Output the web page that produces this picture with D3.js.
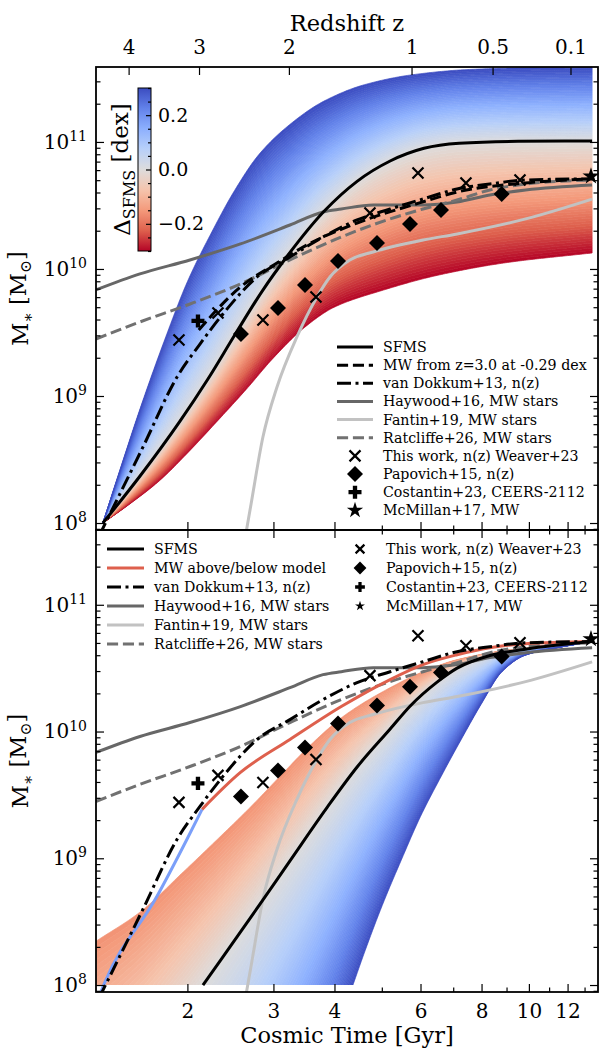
<!DOCTYPE html>
<html>
<head>
<meta charset="utf-8">
<script src="https://cdn.jsdelivr.net/npm/d3@7"></script>
<style>
  html, body { margin: 0; padding: 0; background: #fff; }
  svg { display: block; }
</style>
</head>
<body>
<svg id="fig" width="599" height="1048" font-family='"DejaVu Serif"'></svg>
<script>
// ---------------- data: time in Gyr, stellar mass as log10(M/Msun) ----------------
const redshiftTicks = [4, 3, 2, 1, 0.5, 0.1];
const redshiftTickLabels = ["4", "3", "2", "1", "0.5", "0.1"];
const timeTicksMajor = [2, 3, 4, 6, 8, 10, 12];
const timeTicksMinor = [5, 7, 9, 11, 13];
const massDecades = [8, 9, 10, 11];
const colorbarMajor = [-0.2, 0.0, 0.2];
const colorbarMinor = [-0.3, -0.25, -0.15, -0.1, -0.05, 0.05, 0.1, 0.15, 0.25, 0.3];

// upper panel: growth from 1e8 Msun at fixed offset from the SFMS
const deltaRangeUp = [-0.3, 0.3];
const growthSFMS = [[1.343, 8.0], [1.6, 8.37], [1.93, 8.8], [2.2, 9.13], [2.5, 9.48], [2.85, 9.83], [3.2, 10.1], [3.8, 10.45], [4.45, 10.69], [5.2, 10.85], [6.1, 10.95], [7.2, 10.99], [9.5, 11.005], [13.47, 11.008]];
const growthBelow = [[1.343, 8.0], [1.5, 8.13], [1.75, 8.33], [2.0, 8.55], [2.3, 8.8], [2.65, 9.06], [3.0, 9.3], [3.5, 9.55], [4.0, 9.7], [5.0, 9.83], [6.5, 9.95], [9.0, 10.05], [13.47, 10.126]];
const growthAbove = [[1.343, 8.0], [1.45, 8.4], [1.6, 8.9], [1.8, 9.45], [2.0, 9.9], [2.25, 10.3], [2.5, 10.62], [2.8, 10.9], [3.2, 11.12], [3.8, 11.32], [4.6, 11.45], [5.8, 11.53], [7.5, 11.57], [10.0, 11.585], [13.47, 11.59]];
const mwFromZ3 = [[2.11, 9.52], [2.568, 9.858], [3.05, 10.047], [3.514, 10.189], [4.45, 10.362], [5.97, 10.52], [7.13, 10.606], [9.85, 10.677], [13.47, 10.71]];

// lower panel: histories ending at the Milky Way mass today
const deltaRangeDown = [-0.16, 0.3];
const backSFMS = [[2.152, 8.0], [2.353, 8.21], [2.818, 8.64], [3.243, 8.98], [3.861, 9.40], [4.45, 9.72], [5.2, 10.02], [5.71, 10.2], [6.487, 10.39], [7.13, 10.5], [8.32, 10.6], [9.85, 10.65], [13.47, 10.71]];
const backBelow = [[1.3, 8.346], [1.599, 8.575], [1.959, 8.89], [2.333, 9.17], [2.686, 9.40], [3.065, 9.63], [3.564, 9.89], [4.204, 10.13], [5.2, 10.346], [6.07, 10.472], [7.13, 10.567], [9.85, 10.661], [13.47, 10.71]];
const backAbove = [[4.364, 8.0], [4.6, 8.25], [5.0, 8.62], [5.5, 9.0], [6.0, 9.33], [6.6, 9.64], [7.3, 9.95], [8.0, 10.22], [8.8, 10.47], [9.8, 10.6], [11.4, 10.66], [13.47, 10.71]];
const mwBelowModel = [[2.143, 9.386], [2.568, 9.677], [3.243, 9.937], [4.13, 10.197], [5.2, 10.41], [6.07, 10.528], [7.13, 10.606], [8.32, 10.661], [9.85, 10.693], [13.47, 10.71]];
const mwAboveModel = [[1.325, 7.93], [1.356, 8.024], [1.733, 8.70], [1.996, 9.15], [2.143, 9.386]];

// literature tracks
const vanDokkum = [[1.32, 7.9], [1.622, 8.598], [1.905, 9.15], [2.122, 9.409], [2.365, 9.646], [2.777, 9.937], [3.243, 10.094], [3.79, 10.252], [4.45, 10.386], [5.2, 10.472], [6.07, 10.551], [7.13, 10.63], [8.32, 10.669], [9.85, 10.70], [13.47, 10.71]];
const haywood = [[1.3, 9.835], [1.599, 9.961], [2.024, 10.071], [2.568, 10.197], [3.243, 10.346], [3.79, 10.449], [4.13, 10.472], [4.8, 10.504], [6.07, 10.504], [7.13, 10.528], [8.32, 10.583], [9.85, 10.622], [13.47, 10.661]];
const fantin = [[2.63, 7.9], [2.70, 8.15], [2.855, 8.677], [3.051, 9.071], [3.351, 9.465], [3.684, 9.78], [3.916, 9.937], [4.30, 10.071], [4.80, 10.134], [6.07, 10.228], [7.13, 10.276], [9.85, 10.394], [13.47, 10.55]];
const ratcliffe = [[1.3, 9.449], [1.599, 9.583], [2.024, 9.724], [2.568, 9.882], [3.243, 10.071], [4.13, 10.252], [5.2, 10.394], [6.07, 10.472], [7.13, 10.543], [8.32, 10.622], [9.85, 10.669], [13.47, 10.70]];

// progenitor estimates
const thisWork = [[1.922, 9.441], [2.310, 9.654], [2.855, 9.598], [3.666, 9.780], [4.728, 10.441], [5.929, 10.756], [7.433, 10.677], [9.589, 10.701]];
const papovich = [[2.574, 9.488], [3.065, 9.693], [3.481, 9.874], [4.067, 10.063], [4.887, 10.205], [5.710, 10.354], [6.608, 10.465], [8.796, 10.591]];
const costantin = [[2.102, 9.591]];
const mcmillan = [[13.4, 10.73]];

// ---------------- setup ----------------
const svg = d3.select("#fig");
const X0 = 96, X1 = 598;
const T0 = 13.47;
const logMin = 7.945, logMax = 11.59;
const x = d3.scaleLog().domain([1.3, 13.85]).range([X0, X1]);
const panels = [{ top: 67, bottom: 530 }, { top: 530, bottom: 992 }];
panels.forEach(p => {
  p.y = d3.scaleLog().domain([10 ** logMin, 10 ** logMax]).range([p.bottom, p.top]);
});

const SERIF = '"DejaVu Serif"';
const TICK_FS = 20, LABEL_FS = 22.5, LEGEND_FS = 14.2;
const hayColor = "#676767";
const ratColor = "#717171";
const fanColor = "#c2c2c2";
const redLine = "#de604d";
const blueLine = "#7b9ff9";
const DASH = "11.1,4.8";
const DASHDOT = "14,4.5,3,4.5";

const coolwarm = d3.piecewise(d3.interpolateRgb, ["#3b4cc0", "#6282ea", "#8db0fe", "#b8d0f9", "#dddcdc", "#f5c4ad", "#f49a7b", "#de604d", "#b40426"]);
const deltaToUnit = d3.scaleLinear().domain([0.3, -0.3]).range([0, 1]);
const colorOf = d => coolwarm(deltaToUnit(d));

// redshift -> cosmic time, flat LCDM with H0 = 70, Om = 0.3
function ageAt(z) {
  const hubbleTime = 977.8 / 70, OL = 0.7, Om = 0.3;
  return 2 / (3 * Math.sqrt(OL)) * hubbleTime * Math.asinh(Math.sqrt(OL / Om) * Math.pow(1 + z, -1.5));
}

// monotone cubic evaluation in ln(t); straight continuation outside the sampled range
const interpCache = new Map();
function interpolator(pts) {
  if (interpCache.has(pts)) return interpCache.get(pts);
  const xs = pts.map(d => Math.log(d[0])), ys = pts.map(d => d[1]);
  const n = xs.length, h = [], s = [];
  for (let i = 0; i < n - 1; i++) { h.push(xs[i + 1] - xs[i]); s.push((ys[i + 1] - ys[i]) / h[i]); }
  const m = new Array(n);
  m[0] = s[0]; m[n - 1] = s[n - 2];
  for (let i = 1; i < n - 1; i++) {
    if (s[i - 1] * s[i] <= 0) m[i] = 0;
    else {
      const w1 = 2 * h[i] + h[i - 1], w2 = h[i] + 2 * h[i - 1];
      m[i] = (w1 + w2) / (w1 / s[i - 1] + w2 / s[i]);
    }
  }
  const f = t => {
    const u = Math.log(t);
    if (u <= xs[0]) return ys[0] + s[0] * (u - xs[0]);
    if (u >= xs[n - 1]) return ys[n - 1] + s[n - 2] * (u - xs[n - 1]);
    let i = 0;
    while (i < n - 2 && u > xs[i + 1]) i++;
    const q = (u - xs[i]) / h[i], q2 = q * q, q3 = q2 * q;
    return (2 * q3 - 3 * q2 + 1) * ys[i] + (q3 - 2 * q2 + q) * h[i] * m[i]
         + (-2 * q3 + 3 * q2) * ys[i + 1] + (q3 - q2) * h[i] * m[i + 1];
  };
  interpCache.set(pts, f);
  return f;
}
const valueAt = (pts, t) => interpolator(pts)(t);

const defs = svg.append("defs");
function clipRect(id, x0, y0, x1, y1) {
  defs.append("clipPath").attr("id", id).append("rect")
    .attr("x", x0).attr("y", y0).attr("width", x1 - x0).attr("height", y1 - y0);
  return `url(#${id})`;
}

// family of tracks coloured by their offset from the SFMS
function drawBand(g, p, sfms, lowEdge, highEdge, dLow, dHigh, tStart) {
  const n = 90, m = 260;
  const lts = Math.log(tStart), lte = Math.log(T0);
  const ts = d3.range(m + 1).map(i => Math.exp(lts + (lte - lts) * i / m));
  const curve = (d, t) => {
    const s = valueAt(sfms, t);
    return d < 0 ? s + (d / dLow) * (valueAt(lowEdge, t) - s)
                 : s + (d / dHigh) * (valueAt(highEdge, t) - s);
  };
  const deltas = d3.range(n + 1).map(i => dLow + (dHigh - dLow) * i / n);
  for (let i = 0; i < n; i++) {
    const da = deltas[i], db = deltas[i + 1];
    const area = d3.area()
      .x(t => x(t))
      .y0(t => p.y(10 ** curve(da, t)))
      .y1(t => p.y(10 ** curve(db, t)));
    const c = colorOf((da + db) / 2);
    g.append("path").attr("d", area(ts)).attr("fill", c).attr("stroke", c).attr("stroke-width", 0.7);
  }
}

function drawLine(g, p, pts, color, dash, width) {
  const line = d3.line().x(d => x(d[0])).y(d => p.y(10 ** d[1])).curve(d3.curveMonotoneX);
  g.append("path").attr("d", line(pts)).attr("fill", "none")
    .attr("stroke", color).attr("stroke-width", width || 3)
    .attr("stroke-dasharray", dash || null);
}

// marker shapes
function drawMarker(g, kind, cx, cy, scale) {
  const s = scale || 1;
  if (kind === "x") {
    const h = 5.5 * s;
    g.append("path").attr("d", `M${cx - h},${cy - h}L${cx + h},${cy + h}M${cx - h},${cy + h}L${cx + h},${cy - h}`)
      .attr("stroke", "#000").attr("stroke-width", 2.2).attr("fill", "none");
  } else if (kind === "D") {
    g.append("path").attr("d", d3.symbol(d3.symbolSquare, 128 * s * s)())
      .attr("transform", `translate(${cx},${cy}) rotate(45)`).attr("fill", "#000");
  } else if (kind === "P") {
    g.append("path").attr("d", d3.symbol(d3.symbolCross, 94 * s * s)())
      .attr("transform", `translate(${cx},${cy})`).attr("fill", "#000");
  } else if (kind === "*") {
    g.append("path").attr("d", d3.symbol(d3.symbolStar, 91 * s * s)())
      .attr("transform", `translate(${cx},${cy})`).attr("fill", "#000");
  }
}

function drawMarkers(g, p) {
  thisWork.forEach(d => drawMarker(g, "x", x(d[0]), p.y(10 ** d[1])));
  papovich.forEach(d => drawMarker(g, "D", x(d[0]), p.y(10 ** d[1])));
  costantin.forEach(d => drawMarker(g, "P", x(d[0]), p.y(10 ** d[1])));
  mcmillan.forEach(d => drawMarker(g, "*", x(d[0]), p.y(10 ** d[1])));
}

// ---------------- upper panel ----------------
{
  const p = panels[0];
  const bandG = svg.append("g").attr("clip-path", clipRect("bandUp", X0, p.top, X1, p.y(1e8)));
  drawBand(bandG, p, growthSFMS, growthBelow, growthAbove, deltaRangeUp[0], deltaRangeUp[1], 1.343);
  const g = svg.append("g").attr("clip-path", clipRect("plotUp", X0, p.top, X1, p.bottom));
  drawLine(g, p, haywood, hayColor);
  drawLine(g, p, fantin, fanColor);
  drawLine(g, p, ratcliffe, ratColor, DASH);
  drawLine(g, p, growthSFMS, "#000");
  drawLine(g, p, vanDokkum, "#000", DASHDOT);
  drawLine(g, p, mwFromZ3, "#000", DASH);
  drawMarkers(svg.append("g"), p);
}

// ---------------- lower panel ----------------
{
  const p = panels[1];
  const bandG = svg.append("g").attr("clip-path", clipRect("bandDown", X0, p.top, X1, p.y(1e8)));
  drawBand(bandG, p, backSFMS, backBelow, backAbove, deltaRangeDown[0], deltaRangeDown[1], 1.3);
  const g = svg.append("g").attr("clip-path", clipRect("plotDown", X0, p.top, X1, p.bottom));
  drawLine(g, p, haywood, hayColor);
  drawLine(g, p, fantin, fanColor);
  drawLine(g, p, ratcliffe, ratColor, DASH);
  drawLine(g, p, mwAboveModel, blueLine);
  drawLine(g, p, mwBelowModel, redLine);
  drawLine(g, p, backSFMS, "#000");
  drawLine(g, p, vanDokkum, "#000", DASHDOT);
  drawMarkers(svg.append("g"), p);
}

// ---------------- axes ----------------
function styleAxis(sel) {
  sel.attr("font-family", SERIF).attr("font-size", TICK_FS);
  sel.select(".domain").remove();
  sel.selectAll(".tick line").attr("stroke-width", 1.2);
  sel.selectAll(".tick text").attr("fill", "#000");
}

const yMinorVals = [];
for (let e = 7; e <= 11; e++) for (let k = 2; k <= 9; k++) {
  const v = k * 10 ** e;
  if (v >= 10 ** logMin && v <= 10 ** logMax) yMinorVals.push(v);
}

panels.forEach((p, idx) => {
  const g = svg.append("g");
  const yMajorVals = massDecades.map(e => 10 ** e);

  const left = g.append("g").attr("transform", `translate(${X0},0)`)
    .call(d3.axisLeft(p.y).tickValues(yMajorVals).tickSize(-8).tickPadding(9).tickFormat(""));
  styleAxis(left);
  left.selectAll(".tick text").each(function (v) {
    const t = d3.select(this);
    t.append("tspan").text("10");
    t.append("tspan").attr("dy", "-0.55em").attr("font-size", 14).text(Math.round(Math.log10(v)));
  });
  g.append("g").attr("transform", `translate(${X0},0)`)
    .call(d3.axisLeft(p.y).tickValues(yMinorVals).tickSize(-4.5).tickFormat("")).call(styleAxis);
  g.append("g").attr("transform", `translate(${X1},0)`)
    .call(d3.axisRight(p.y).tickValues(yMajorVals).tickSize(-8).tickFormat("")).call(styleAxis);
  g.append("g").attr("transform", `translate(${X1},0)`)
    .call(d3.axisRight(p.y).tickValues(yMinorVals).tickSize(-4.5).tickFormat("")).call(styleAxis);

  // bottom edge: cosmic time
  g.append("g").attr("transform", `translate(0,${p.bottom})`)
    .call(d3.axisBottom(x).tickValues(timeTicksMajor).tickSize(-8).tickPadding(12)
      .tickFormat(idx === 1 ? d3.format("d") : "")).call(styleAxis);
  g.append("g").attr("transform", `translate(0,${p.bottom})`)
    .call(d3.axisBottom(x).tickValues(timeTicksMinor).tickSize(-4.5).tickFormat("")).call(styleAxis);

  // top edge
  if (idx === 0) {
    g.append("g").attr("transform", `translate(0,${p.top})`)
      .call(d3.axisTop(x).tickValues(redshiftTicks.map(ageAt)).tickSize(-8).tickPadding(13)
        .tickFormat((d, i) => redshiftTickLabels[i])).call(styleAxis);
  } else {
    g.append("g").attr("transform", `translate(0,${p.top})`)
      .call(d3.axisTop(x).tickValues(timeTicksMajor).tickSize(-8).tickFormat("")).call(styleAxis);
    g.append("g").attr("transform", `translate(0,${p.top})`)
      .call(d3.axisTop(x).tickValues(timeTicksMinor).tickSize(-4.5).tickFormat("")).call(styleAxis);
  }

  g.append("rect").attr("x", X0).attr("y", p.top).attr("width", X1 - X0).attr("height", p.bottom - p.top)
    .attr("fill", "none").attr("stroke", "#000").attr("stroke-width", 1.8);

  // y label
  const yl = svg.append("text")
    .attr("transform", `translate(28,${(p.top + p.bottom) / 2}) rotate(-90)`)
    .attr("text-anchor", "middle").attr("font-family", SERIF).attr("font-size", LABEL_FS);
  yl.append("tspan").text("M");
  yl.append("tspan").attr("font-size", 15.5).attr("dy", "0.3em").text("∗");
  yl.append("tspan").attr("dy", "-0.3em").text(" [M");
  yl.append("tspan").attr("font-size", 15.5).attr("dy", "0.3em").text("⊙");
  yl.append("tspan").attr("dy", "-0.3em").text("]");
});

svg.append("text").attr("x", (X0 + X1) / 2).attr("y", 31).attr("text-anchor", "middle")
  .attr("font-family", SERIF).attr("font-size", LABEL_FS).text("Redshift z");
svg.append("text").attr("x", (X0 + X1) / 2).attr("y", 1043).attr("text-anchor", "middle")
  .attr("font-family", SERIF).attr("font-size", LABEL_FS).text("Cosmic Time [Gyr]");

// ---------------- colour bar ----------------
{
  const cb = { x0: 138, x1: 151, top: 88, bottom: 251 };
  const grad = defs.append("linearGradient").attr("id", "cbGrad")
    .attr("x1", 0).attr("y1", 0).attr("x2", 0).attr("y2", 1);
  d3.range(41).forEach(i => grad.append("stop").attr("offset", i / 40).attr("stop-color", coolwarm(i / 40)));
  svg.append("rect").attr("x", cb.x0).attr("y", cb.top).attr("width", cb.x1 - cb.x0).attr("height", cb.bottom - cb.top)
    .attr("fill", "url(#cbGrad)").attr("stroke", "#000").attr("stroke-width", 1);
  const cs = d3.scaleLinear().domain([-0.3, 0.3]).range([cb.bottom, cb.top]);
  const fmt = v => (Math.abs(v) < 1e-9 ? "0.0" : (v < 0 ? "\u2212" : "") + Math.abs(v).toFixed(1));
  svg.append("g").attr("transform", `translate(${cb.x1},0)`)
    .call(d3.axisRight(cs).tickValues(colorbarMajor).tickSize(-5).tickPadding(7).tickFormat(fmt))
    .call(styleAxis).attr("font-size", 19);
  svg.append("g").attr("transform", `translate(${cb.x1},0)`)
    .call(d3.axisRight(cs).tickValues(colorbarMinor).tickSize(-3).tickFormat("")).call(styleAxis);
  const cl = svg.append("text").attr("transform", `translate(130,${(cb.top + cb.bottom) / 2}) rotate(-90)`)
    .attr("text-anchor", "middle").attr("font-family", SERIF).attr("font-size", 23);
  cl.append("tspan").text("Δ");
  cl.append("tspan").attr("font-size", 16).attr("dy", "0.3em").text("SFMS");
  cl.append("tspan").attr("dy", "-0.3em").text(" [dex]");
}

// ---------------- legends ----------------
const lineEntriesUp = [
  { label: "SFMS", color: "#000" },
  { label: "MW from z=3.0 at -0.29 dex", color: "#000", dash: DASH },
  { label: "van Dokkum+13, n(z)", color: "#000", dash: DASHDOT },
  { label: "Haywood+16, MW stars", color: hayColor },
  { label: "Fantin+19, MW stars", color: fanColor },
  { label: "Ratcliffe+26, MW stars", color: ratColor, dash: DASH }
];
const lineEntriesDown = [
  { label: "SFMS", color: "#000" },
  { label: "MW above/below model", color: redLine },
  { label: "van Dokkum+13, n(z)", color: "#000", dash: DASHDOT },
  { label: "Haywood+16, MW stars", color: hayColor },
  { label: "Fantin+19, MW stars", color: fanColor },
  { label: "Ratcliffe+26, MW stars", color: ratColor, dash: DASH }
];
const markerEntries = [
  { label: "This work, n(z) Weaver+23", kind: "x" },
  { label: "Papovich+15, n(z)", kind: "D" },
  { label: "Costantin+23, CEERS-2112", kind: "P" },
  { label: "McMillan+17, MW", kind: "*" }
];

function legendText(g, tx, ty, label) {
  g.append("text").attr("x", tx).attr("y", ty + 5).attr("font-family", SERIF)
    .attr("font-size", LEGEND_FS).attr("fill", "#000").text(label);
}
function legendLine(g, e, xa, xb, ty, tx) {
  g.append("line").attr("x1", xa).attr("x2", xb).attr("y1", ty).attr("y2", ty)
    .attr("stroke", e.color).attr("stroke-width", 3).attr("stroke-dasharray", e.dash || null);
  legendText(g, tx, ty, e.label);
}

{
  const g = svg.append("g");
  const step = 18.15;
  lineEntriesUp.forEach((e, i) => legendLine(g, e, 337, 373, 347 + i * step, 383));
  markerEntries.forEach((e, i) => {
    const yy = 347 + (i + 6) * step;
    drawMarker(g, e.kind, 355, yy, e.kind === "*" ? 0.95 : 1);
    legendText(g, 383, yy, e.label);
  });
}
{
  const g = svg.append("g");
  const step = 19;
  lineEntriesDown.forEach((e, i) => legendLine(g, e, 107, 144, 549 + i * step, 154));
  const scales = { x: 0.8, D: 0.8, P: 0.75, "*": 0.58 };
  markerEntries.forEach((e, i) => {
    const yy = 549 + i * step;
    drawMarker(g, e.kind, 360, yy, scales[e.kind]);
    legendText(g, 386, yy, e.label);
  });
}
</script>
</body>
</html>
